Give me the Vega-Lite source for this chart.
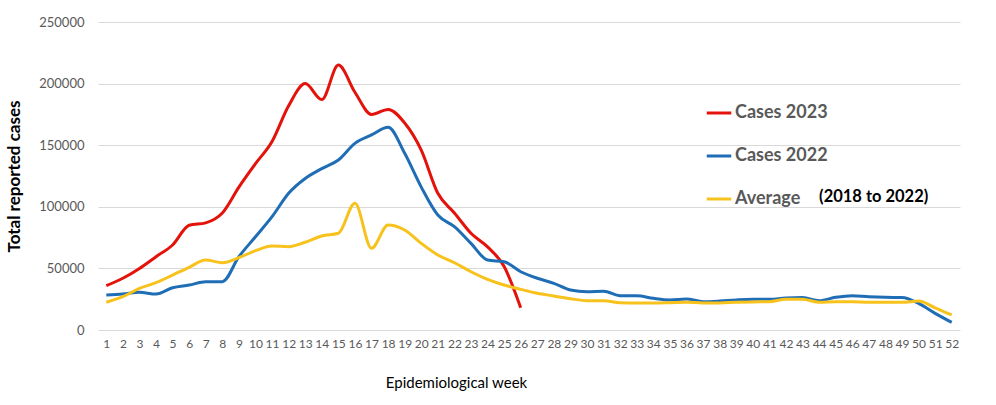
{
  "$schema": "https://vega.github.io/schema/vega-lite/v6.json",
  "width": 862,
  "height": 308,
  "autosize": {"type": "none"},
  "padding": {"left": 98, "top": 22, "right": 36, "bottom": 75},
  "background": "white",
  "config": {"view": {"stroke": null}, "font": "Lato"},
  "data": {"values": [
    {"week":1,"series":"Cases 2023","cases":36000},{"week":2,"series":"Cases 2023","cases":42000},{"week":3,"series":"Cases 2023","cases":50000},{"week":4,"series":"Cases 2023","cases":59500},{"week":5,"series":"Cases 2023","cases":69000},{"week":6,"series":"Cases 2023","cases":85000},{"week":7,"series":"Cases 2023","cases":87000},{"week":8,"series":"Cases 2023","cases":95000},{"week":9,"series":"Cases 2023","cases":116000},{"week":10,"series":"Cases 2023","cases":135000},{"week":11,"series":"Cases 2023","cases":153000},{"week":12,"series":"Cases 2023","cases":182000},{"week":13,"series":"Cases 2023","cases":200000},{"week":14,"series":"Cases 2023","cases":187000},{"week":15,"series":"Cases 2023","cases":215000},{"week":16,"series":"Cases 2023","cases":193000},{"week":17,"series":"Cases 2023","cases":175000},{"week":18,"series":"Cases 2023","cases":179000},{"week":19,"series":"Cases 2023","cases":168000},{"week":20,"series":"Cases 2023","cases":146000},{"week":21,"series":"Cases 2023","cases":111000},{"week":22,"series":"Cases 2023","cases":95000},{"week":23,"series":"Cases 2023","cases":78500},{"week":24,"series":"Cases 2023","cases":67500},{"week":25,"series":"Cases 2023","cases":51500},{"week":26,"series":"Cases 2023","cases":18000},
    {"week":1,"series":"Cases 2022","cases":28400},{"week":2,"series":"Cases 2022","cases":29200},{"week":3,"series":"Cases 2022","cases":30600},{"week":4,"series":"Cases 2022","cases":29200},{"week":5,"series":"Cases 2022","cases":34300},{"week":6,"series":"Cases 2022","cases":36500},{"week":7,"series":"Cases 2022","cases":39200},{"week":8,"series":"Cases 2022","cases":39200},{"week":9,"series":"Cases 2022","cases":59500},{"week":10,"series":"Cases 2022","cases":75700},{"week":11,"series":"Cases 2022","cases":92000},{"week":12,"series":"Cases 2022","cases":111000},{"week":13,"series":"Cases 2022","cases":123000},{"week":14,"series":"Cases 2022","cases":131000},{"week":15,"series":"Cases 2022","cases":138000},{"week":16,"series":"Cases 2022","cases":151500},{"week":17,"series":"Cases 2022","cases":158300},{"week":18,"series":"Cases 2022","cases":164500},{"week":19,"series":"Cases 2022","cases":143400},{"week":20,"series":"Cases 2022","cases":116000},{"week":21,"series":"Cases 2022","cases":93300},{"week":22,"series":"Cases 2022","cases":83900},{"week":23,"series":"Cases 2022","cases":70300},{"week":24,"series":"Cases 2022","cases":56800},{"week":25,"series":"Cases 2022","cases":55400},{"week":26,"series":"Cases 2022","cases":47300},{"week":27,"series":"Cases 2022","cases":42000},{"week":28,"series":"Cases 2022","cases":37900},{"week":29,"series":"Cases 2022","cases":32500},{"week":30,"series":"Cases 2022","cases":31100},{"week":31,"series":"Cases 2022","cases":31500},{"week":32,"series":"Cases 2022","cases":27800},{"week":33,"series":"Cases 2022","cases":27800},{"week":34,"series":"Cases 2022","cases":25700},{"week":35,"series":"Cases 2022","cases":24400},{"week":36,"series":"Cases 2022","cases":25200},{"week":37,"series":"Cases 2022","cases":23000},{"week":38,"series":"Cases 2022","cases":23500},{"week":39,"series":"Cases 2022","cases":24400},{"week":40,"series":"Cases 2022","cases":24900},{"week":41,"series":"Cases 2022","cases":24900},{"week":42,"series":"Cases 2022","cases":26000},{"week":43,"series":"Cases 2022","cases":26300},{"week":44,"series":"Cases 2022","cases":23800},{"week":45,"series":"Cases 2022","cases":26500},{"week":46,"series":"Cases 2022","cases":27800},{"week":47,"series":"Cases 2022","cases":27000},{"week":48,"series":"Cases 2022","cases":26500},{"week":49,"series":"Cases 2022","cases":26300},{"week":50,"series":"Cases 2022","cases":21600},{"week":51,"series":"Cases 2022","cases":13500},{"week":52,"series":"Cases 2022","cases":6200},
    {"week":1,"series":"Average","cases":22500},{"week":2,"series":"Average","cases":27000},{"week":3,"series":"Average","cases":33800},{"week":4,"series":"Average","cases":38400},{"week":5,"series":"Average","cases":44600},{"week":6,"series":"Average","cases":50900},{"week":7,"series":"Average","cases":56800},{"week":8,"series":"Average","cases":54600},{"week":9,"series":"Average","cases":58700},{"week":10,"series":"Average","cases":64400},{"week":11,"series":"Average","cases":68200},{"week":12,"series":"Average","cases":67600},{"week":13,"series":"Average","cases":71200},{"week":14,"series":"Average","cases":76300},{"week":15,"series":"Average","cases":78500},{"week":16,"series":"Average","cases":102800},{"week":17,"series":"Average","cases":66300},{"week":18,"series":"Average","cases":85200},{"week":19,"series":"Average","cases":81200},{"week":20,"series":"Average","cases":70300},{"week":21,"series":"Average","cases":60900},{"week":22,"series":"Average","cases":54600},{"week":23,"series":"Average","cases":47300},{"week":24,"series":"Average","cases":41100},{"week":25,"series":"Average","cases":36500},{"week":26,"series":"Average","cases":33000},{"week":27,"series":"Average","cases":29800},{"week":28,"series":"Average","cases":27600},{"week":29,"series":"Average","cases":25400},{"week":30,"series":"Average","cases":23800},{"week":31,"series":"Average","cases":23800},{"week":32,"series":"Average","cases":22200},{"week":33,"series":"Average","cases":22000},{"week":34,"series":"Average","cases":22000},{"week":35,"series":"Average","cases":22200},{"week":36,"series":"Average","cases":22500},{"week":37,"series":"Average","cases":22000},{"week":38,"series":"Average","cases":22000},{"week":39,"series":"Average","cases":22500},{"week":40,"series":"Average","cases":22800},{"week":41,"series":"Average","cases":23000},{"week":42,"series":"Average","cases":25000},{"week":43,"series":"Average","cases":25000},{"week":44,"series":"Average","cases":22500},{"week":45,"series":"Average","cases":23000},{"week":46,"series":"Average","cases":23000},{"week":47,"series":"Average","cases":22500},{"week":48,"series":"Average","cases":22500},{"week":49,"series":"Average","cases":22500},{"week":50,"series":"Average","cases":23500},{"week":51,"series":"Average","cases":18000},{"week":52,"series":"Average","cases":12200}
  ]},
  "layer": [
    {
      "mark": {"type": "line", "strokeWidth": 3, "interpolate": "monotone"},
      "encoding": {
        "x": {
          "field": "week", "type": "ordinal",
          "scale": {"type": "point", "padding": 0.5},
          "axis": {
            "labelOverlap": false, "labelAngle": 0,
            "grid": false, "ticks": false, "domain": false,
            "labelColor": "#595959", "labelFontSize": 12, "labelPadding": 8,
            "title": "Epidemiological week", "titleFontSize": 15, "titleFontWeight": "normal",
            "titleColor": "#000000", "titlePadding": 26, "titleX": 358, "titleAlign": "center"
          }
        },
        "y": {
          "field": "cases", "type": "quantitative",
          "scale": {"domain": [0, 250000], "nice": false},
          "axis": {
            "values": [0, 50000, 100000, 150000, 200000, 250000], "format": "d",
            "gridColor": "#d9d9d9", "gridWidth": 1.2, "domain": false, "ticks": false,
            "labelColor": "#595959", "labelFontSize": 13, "labelPadding": 14,
            "title": "Total reported cases", "titleFontSize": 17, "titleFontWeight": "bold",
            "titleColor": "#000000", "titlePadding": 15
          }
        },
        "color": {
          "field": "series", "type": "nominal",
          "scale": {"domain": ["Cases 2023", "Cases 2022", "Average"], "range": ["#e3120b", "#1f6db5", "#f8c21c"]},
          "legend": {
            "orient": "none", "legendX": 607, "legendY": 77, "title": null,
            "symbolType": "stroke", "symbolStrokeWidth": 3, "symbolSize": 600,
            "labelFontSize": 18, "labelFontWeight": "bold", "labelColor": "#595959",
            "rowPadding": 20, "labelOffset": 2
          }
        }
      }
    },
    {
      "data": {"values": [{"note": "(2018 to 2022)"}]},
      "mark": {"type": "text", "align": "left", "baseline": "middle", "fontSize": 16.5, "fontWeight": "bold", "fill": "#000000"},
      "encoding": {
        "x": {"datum": 44, "type": "ordinal"},
        "y": {"datum": 108000, "type": "quantitative"},
        "text": {"field": "note", "type": "nominal"}
      }
    }
  ]
}
